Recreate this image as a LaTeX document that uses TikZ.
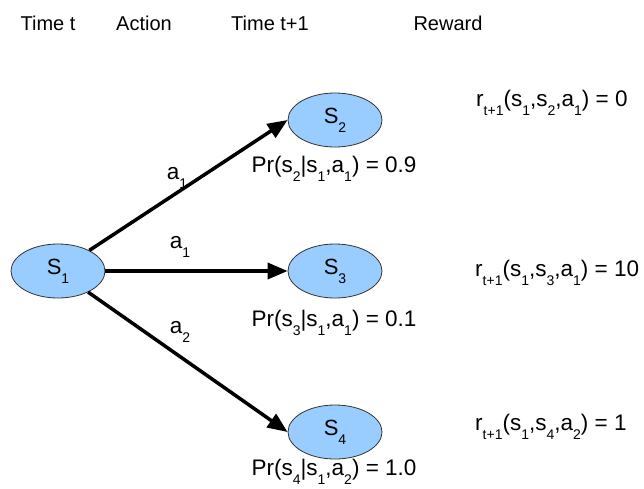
\documentclass[tikz,border=0pt]{standalone}
\usepackage{fontspec}
\setmainfont{Liberation Sans}
\usetikzlibrary{arrows.meta,shapes.geometric}
\newcommand{\lowsub}[1]{\raisebox{-0.42em}{\fontsize{14}{14}\selectfont #1}}
\definecolor{stfill}{HTML}{99CCFF}
\definecolor{stline}{HTML}{333333}
\tikzset{
  state/.style={ellipse, draw=stline, line width=0.8pt, fill=stfill, minimum width=94pt, minimum height=54pt, inner sep=0pt, font=\fontsize{22}{24}\selectfont},
  hdr/.style={font=\fontsize{20}{22}\selectfont, inner sep=0pt},
  lbl/.style={font=\fontsize{22.5}{24}\selectfont, inner sep=0pt},
  act/.style={line width=3.5pt, -{Triangle[length=20pt,width=16pt]}},
}
\begin{document}
\begin{tikzpicture}[x=1pt,y=-1pt]
\useasboundingbox (0,0) rectangle (644,488);
\node[hdr] (h1) at (48,23) {Time t};
\node[hdr] (h2) at (144,23) {Action};
\node[hdr] (h3) at (270,23) {Time t+1};
\node[hdr] (h4) at (448,23) {Reward};
\node[state] (s1) at (58,271) {S\lowsub{1}};
\node[state] (s2) at (335,120) {S\lowsub{2}};
\node[state] (s3) at (335,271) {S\lowsub{3}};
\node[state] (s4) at (335,432) {S\lowsub{4}};
\draw[act] (s1) -- (s2.west);
\draw[act] (s1.east) -- (s3.west);
\draw[act] (s1) -- (s4.west);
\node[lbl] (l1) at (177,178) {a\lowsub{1}};
\node[lbl] (l2) at (180,247) {a\lowsub{1}};
\node[lbl] (l3) at (180,332) {a\lowsub{2}};
\node[lbl] (p2) at (334,169) {Pr(s\lowsub{2}|s\lowsub{1},a\lowsub{1}) = 0.9};
\node[lbl] (p3) at (334,323) {Pr(s\lowsub{3}|s\lowsub{1},a\lowsub{1}) = 0.1};
\node[lbl] (p4) at (334,472) {Pr(s\lowsub{4}|s\lowsub{1},a\lowsub{2}) = 1.0};
\node[lbl,anchor=west] (r2) at (476,103) {r\lowsub{t+1}(s\lowsub{1},s\lowsub{2},a\lowsub{1}) = 0};
\node[lbl,anchor=west] (r3) at (475,273) {r\lowsub{t+1}(s\lowsub{1},s\lowsub{3},a\lowsub{1}) = 10};
\node[lbl,anchor=west] (r4) at (475,427) {r\lowsub{t+1}(s\lowsub{1},s\lowsub{4},a\lowsub{2}) = 1};
\end{tikzpicture}
\end{document}
